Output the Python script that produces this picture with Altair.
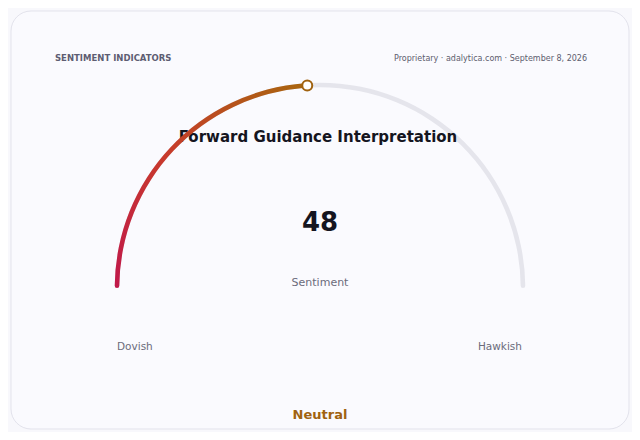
import math
import altair as alt
import pandas as pd

# ---- data ----
value = [48]
scale_min = [0]
scale_max = [100]
end_labels = ["Dovish", "Hawkish"]
metric_label = ["Sentiment"]
status_label = ["Neutral"]
chart_title = ["Forward Guidance Interpretation"]
header_left = ["SENTIMENT INDICATORS"]
header_right = ["Proprietary · adalytica.com · September 8, 2026"]

W, H = 624, 424
CX, CY, R = 312, 280, 203
FONT = "DejaVu Sans"

gauge = pd.DataFrame({"start": scale_min, "end": scale_max, "value": value})
one = pd.DataFrame({"k": [0]})

theta_scale = alt.Scale(domain=[scale_min[0], scale_max[0]], range=[-math.pi / 2, math.pi / 2])

base = alt.Chart(gauge)

card = alt.Chart(one).mark_rect(
    cornerRadius=20, fill="#fafafe", stroke="#e3e3ec", strokeWidth=1
).encode(x=alt.value(3), x2=alt.value(621), y=alt.value(3), y2=alt.value(421))

def txt(s, x, y, size, color, weight="normal", align="center", baseline="alphabetic"):
    return alt.Chart(pd.DataFrame({"t": s})).mark_text(
        font=FONT, fontSize=size, fontWeight=weight, color=color, align=align, baseline=baseline
    ).encode(text="t:N", x=alt.value(x), y=alt.value(y))

title = txt(chart_title, 310, 134, 15, "#15151f", "bold")

track = base.mark_arc(
    innerRadius=R - 2.3, outerRadius=R + 2.3, cornerRadius=2.3, color="#e5e5ec"
).encode(
    theta=alt.Theta("start:Q", scale=theta_scale),
    theta2="end:Q",
    x=alt.value(CX), y=alt.value(CY),
)

grad = alt.Gradient(
    gradient="linear", x1=0, y1=1, x2=1, y2=0,
    stops=[
        alt.GradientStop(offset=0, color="#c0184a"),
        alt.GradientStop(offset=0.45, color="#c83a2c"),
        alt.GradientStop(offset=1, color="#a8660e"),
    ],
)

fill_arc = base.mark_arc(
    innerRadius=R - 2.3, outerRadius=R + 2.3, cornerRadius=2.3, fill=grad
).encode(
    theta=alt.Theta("start:Q", scale=theta_scale),
    theta2="value:Q",
    x=alt.value(CX), y=alt.value(CY),
)

marker = base.transform_calculate(
    a=f"PI * (1 - (datum.value - {scale_min[0]}) / ({scale_max[0]} - {scale_min[0]}))"
).transform_calculate(
    px=f"{CX} + {R} * cos(datum.a)",
    py=f"{CY} - {R} * sin(datum.a)",
).mark_point(
    filled=True, fill="#ffffff", stroke="#a0620f", strokeWidth=2, size=100, opacity=1, shape="circle"
).encode(
    x=alt.X("px:Q", scale=None, axis=None),
    y=alt.Y("py:Q", scale=None, axis=None),
)

big_value = base.mark_text(
    font=FONT, fontSize=26, fontWeight="bold", color="#15151f", align="center", baseline="alphabetic"
).encode(text=alt.Text("value:Q"), x=alt.value(CX), y=alt.value(223))

layers = [
    card,
    txt(header_left, 47, 53, 8.5, "#5d5d72", "bold", "left"),
    txt(header_right, 579, 53, 8, "#5d5d6e", "normal", "right"),
    track,
    title,
    fill_arc,
    marker,
    big_value,
    txt(metric_label, CX, 278, 11, "#6b6b7b"),
    txt([end_labels[0]], 109, 342, 10.5, "#6b6b7b", "normal", "left"),
    txt([end_labels[1]], 514, 342, 10.5, "#6b6b7b", "normal", "right"),
    txt(status_label, CX, 411, 13, "#a0620f", "bold"),
]

chart = alt.layer(*layers).properties(
    width=W, height=H, background="#f8f8fc", padding=0,
    autosize=alt.AutoSizeParams(type="none"),
).configure_view(stroke=None)

chart.save("out.html", embed_options={"renderer": "svg", "actions": False})
